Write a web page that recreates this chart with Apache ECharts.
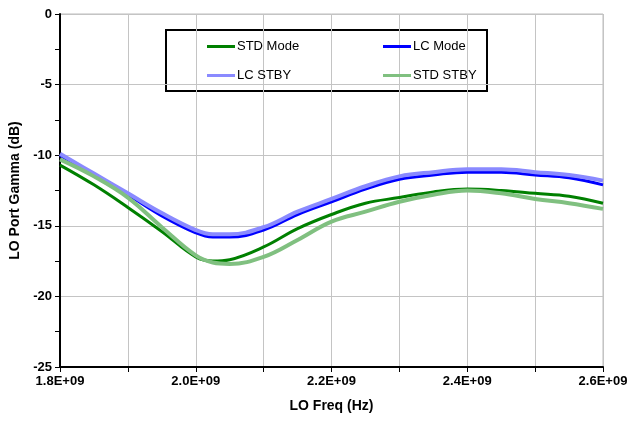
<!DOCTYPE html>
<html>
<head>
<meta charset="utf-8">
<script src="https://cdn.jsdelivr.net/npm/echarts@6/dist/echarts.min.js"></script>
<style>
  html, body { margin: 0; padding: 0; background: #fff; }
  #chart { width: 627px; height: 421px; }
</style>
</head>
<body>
<div id="chart"></div>
<script>
// frequency points (Hz)
const freqs = [1.80e9, 1.85e9, 1.90e9, 1.95e9, 2.00e9, 2.025e9, 2.05e9, 2.10e9, 2.15e9, 2.20e9,
  2.25e9, 2.30e9, 2.35e9, 2.40e9, 2.45e9, 2.50e9, 2.55e9, 2.60e9]

// LO port gamma (dB)
const stdMode = [-10.7, -12.1, -13.7, -15.4, -17.2, -17.5, -17.4, -16.5, -15.2, -14.2,
  -13.4, -13.0, -12.6, -12.4, -12.5, -12.7, -12.9, -13.4]
const lcMode = [-10.0, -11.4, -12.8, -14.3, -15.5, -15.8, -15.8, -15.3, -14.2, -13.3,
  -12.4, -11.7, -11.4, -11.2, -11.2, -11.4, -11.6, -12.1]
const lcStby = [-9.9, -11.3, -12.7, -14.1, -15.3, -15.6, -15.6, -15.1, -14.0, -13.1,
  -12.2, -11.5, -11.2, -11.0, -11.0, -11.2, -11.4, -11.8]
const stdStby = [-10.3, -11.5, -13.0, -15.1, -17.1, -17.6, -17.7, -17.2, -16.0, -14.7,
  -14.0, -13.3, -12.8, -12.5, -12.7, -13.1, -13.4, -13.8]

const names = ['STD Mode', 'LC Mode', 'LC STBY', 'STD STBY']
const colors = ['#008000', '#0000ff', '#8a8aff', '#80c080']
const values = [stdMode, lcMode, lcStby, stdStby]
const widths = [3, 3, 4, 4]

const myChart = echarts.init(document.getElementById('chart'))

const pair = (arr) => freqs.map((f, i) => [f, arr[i]])

// legend positions (one legend per entry, inside a boxed frame)
const legendPos = [[207, 40], [383, 40], [207, 69], [383, 69]]

const labelFont = {
  fontFamily: 'Liberation Sans, Arial, sans-serif',
  fontWeight: 'bold',
  fontSize: 13,
  color: '#000'
}

myChart.setOption({
  animation: false,
  grid: {
    left: 60,
    right: 24,
    top: 14,
    bottom: 54,
    outerBoundsMode: 'none',
    containLabel: false,
    show: true,
    borderColor: '#bdbdbd',
    borderWidth: 1
  },
  legend: names.map((n, i) => ({
    left: legendPos[i][0],
    top: legendPos[i][1],
    padding: 0,
    data: [n],
    icon: 'rect',
    itemWidth: 28,
    itemHeight: 3,
    itemGap: 0,
    selectedMode: false,
    textStyle: {
      fontFamily: 'Liberation Sans, Arial, sans-serif',
      fontSize: 13,
      color: '#000',
      padding: [0, 0, 0, -3]
    }
  })),
  graphic: [
    {
      type: 'rect',
      shape: { x: 166, y: 30, width: 321, height: 61 },
      style: { fill: '#fff', stroke: '#000', lineWidth: 2 },
      z: 0
    }
  ],
  xAxis: {
    type: 'value',
    min: 1.8e9,
    max: 2.6e9,
    interval: 0.1e9,
    name: 'LO Freq (Hz)',
    nameLocation: 'middle',
    nameGap: 32,
    nameTextStyle: { ...labelFont, fontSize: 14 },
    axisLine: { onZero: false, lineStyle: { color: '#000', width: 2 } },
    axisTick: { show: true, length: 5, lineStyle: { color: '#000', width: 1 } },
    axisLabel: {
      ...labelFont,
      margin: 8,
      formatter: (v) => {
        const k = Math.round(v / 1e8)
        if (k % 2 !== 0) return ''
        return (k / 10).toFixed(1) + 'E+09'
      }
    },
    splitLine: { show: true, lineStyle: { color: '#c4c4c4', width: 1 } }
  },
  yAxis: {
    type: 'value',
    min: -25,
    max: 0,
    interval: 5,
    name: 'LO Port Gamma (dB)',
    nameLocation: 'middle',
    nameGap: 36,
    nameTextStyle: { ...labelFont, fontSize: 14 },
    axisLine: { show: true, lineStyle: { color: '#000', width: 2 } },
    axisTick: { show: true, length: 5, lineStyle: { color: '#000', width: 1 } },
    minorTick: { show: true, splitNumber: 2, length: 5, lineStyle: { color: '#000', width: 1 } },
    axisLabel: { ...labelFont, margin: 8 },
    splitLine: { show: true, lineStyle: { color: '#c4c4c4', width: 1 } }
  },
  series: names.map((n, i) => ({
    name: n,
    type: 'line',
    data: pair(values[i]),
    smooth: 0.4,
    symbol: 'none',
    color: colors[i],
    lineStyle: { color: colors[i], width: widths[i] },
    z: 2 + i
  }))
})
</script>
</body>
</html>
